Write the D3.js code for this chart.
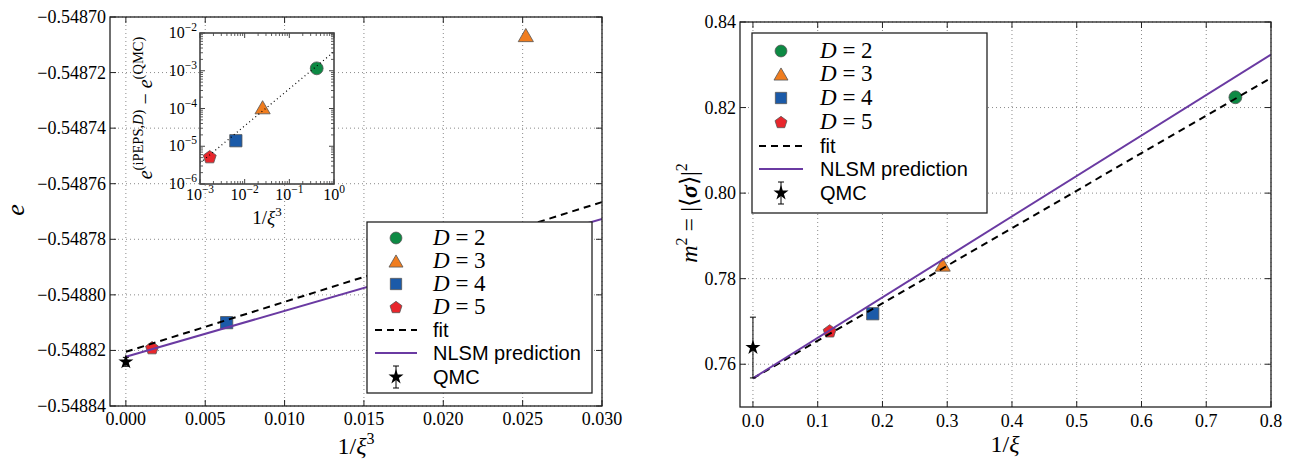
<!DOCTYPE html>
<html><head><meta charset="utf-8">
<script src="https://cdn.jsdelivr.net/npm/d3@7"></script>
<style>
body{margin:0;background:#fff;}
svg{display:block;}
.serif{font-family:"Liberation Serif";}
.sans{font-family:"Liberation Sans";}
</style></head>
<body>
<svg id="c" width="1291" height="462"></svg>
<script>
// ---------------- data ----------------
const seriesNames = ["D = 2","D = 3","D = 4","D = 5"];
const seriesDigits = ["2","3","4","5"];
const seriesColors = ["#0d8a44","#f07d1f","#1b5aa8","#e8262c"];
const seriesShapes = ["circle","triangle","square","pentagon"];
const invXi3 = [0.41, 0.0252, 0.00635, 0.00165];   // 1/xi^3
const invXi = [0.745, 0.293, 0.185, 0.1185];         // 1/xi
const energy = [-0.547664, -0.5487065, -0.548810, -0.548819];
const magnet2 = [0.8224, 0.7833, 0.7718, 0.7678];
const energyDiff = [1.16e-3, 1.08e-4, 1.4e-5, 5.3e-6];
const qmcE = -0.5488241, qmcEErr = 1.6e-6;
const qmcM = 0.7639, qmcMErr = 0.0071;
const fitEX = [0, 0.030], fitEY = [-0.5488205, -0.5487666];
const nlsmEX = [0, 0.030], nlsmEY = [-0.5488223, -0.5487727];
const fitMX = [0, 0.8], fitMY = [0.7567, 0.8269];
const nlsmMX = [0, 0.8], nlsmMY = [0.7567, 0.8324];
const insetFitX = [1e-3, 1], insetFitY = [3.6e-6, 3.2e-3];
const leftXTicks = [0, 0.005, 0.010, 0.015, 0.020, 0.025, 0.030];
const leftYTicks = [-0.54884, -0.54882, -0.54880, -0.54878, -0.54876, -0.54874, -0.54872, -0.54870];
const rightXTicks = [0, 0.1, 0.2, 0.3, 0.4, 0.5, 0.6, 0.7, 0.8];
const rightYTicks = [0.76, 0.78, 0.80, 0.82, 0.84];
const insetXTicks = [1e-3, 1e-2, 1e-1, 1];
const insetXExp = ["−3","−2","−1","0"];
const insetYTicks = [1e-6, 1e-5, 1e-4, 1e-3, 1e-2];
const insetYExp = ["−6","−5","−4","−3","−2"];

// ---------------- helpers ----------------
const svg = d3.select("#c");
const purple = "#6a3aa2";

const pentagon = {draw(ctx, size){
  const r = Math.sqrt(size/2.378);
  for(let i=0;i<5;i++){
    const a = -Math.PI/2 + i*2*Math.PI/5;
    const x = r*Math.cos(a), y = r*Math.sin(a)+r*0.1;
    if(i===0) ctx.moveTo(x,y); else ctx.lineTo(x,y);
  }
  ctx.closePath();
}};
const triangleUp = {draw(ctx, size){
  const s = Math.sqrt(size*4/Math.sqrt(3));
  const h = s*Math.sqrt(3)/2;
  ctx.moveTo(0,-h/2); ctx.lineTo(s/2,h/2); ctx.lineTo(-s/2,h/2); ctx.closePath();
}};
const shapeMap = {circle:[d3.symbolCircle,130], triangle:[triangleUp,100], square:[d3.symbolSquare,150], pentagon:[pentagon,110]};
function markerPath(shape, scale=1){
  const [t,s] = shapeMap[shape];
  return d3.symbol().type(t).size(s*scale)();
}

function grid(g, x, y, xt, yt){
  const [x0,x1] = x.range(), [y0,y1] = y.range();
  g.append("g").selectAll("line").data(xt).join("line")
    .attr("x1",d=>x(d)).attr("x2",d=>x(d)).attr("y1",y0).attr("y2",y1)
    .attr("stroke","#8a8a8a").attr("stroke-width",1).attr("stroke-dasharray","1,3");
  g.append("g").selectAll("line").data(yt).join("line")
    .attr("y1",d=>y(d)).attr("y2",d=>y(d)).attr("x1",x0).attr("x2",x1)
    .attr("stroke","#8a8a8a").attr("stroke-width",1).attr("stroke-dasharray","1,3");
}
function ticksAndBox(g, x, y, xt, yt, len, color, sw){
  const [x0,x1] = x.range(), [y0,y1] = y.range();
  const tk = g.append("g").attr("stroke",color).attr("stroke-width",1);
  xt.forEach(d=>{
    tk.append("line").attr("x1",x(d)).attr("x2",x(d)).attr("y1",y0).attr("y2",y0-len);
    tk.append("line").attr("x1",x(d)).attr("x2",x(d)).attr("y1",y1).attr("y2",y1+len);
  });
  yt.forEach(d=>{
    tk.append("line").attr("y1",y(d)).attr("y2",y(d)).attr("x1",x0).attr("x2",x0+len);
    tk.append("line").attr("y1",y(d)).attr("y2",y(d)).attr("x1",x1).attr("x2",x1-len);
  });
  g.append("rect").attr("x",x0).attr("y",y1).attr("width",x1-x0).attr("height",y0-y1)
    .attr("fill","none").attr("stroke",color).attr("stroke-width",sw);
}
function serifText(g){ return g.append("text").attr("class","serif"); }

// ================= LEFT PANEL =================
const xL = d3.scaleLinear([-0.001, 0.030],[110, 602]);
const yL = d3.scaleLinear([-0.54884, -0.54870],[406, 17]);
const gL = svg.append("g");
grid(gL, xL, yL, leftXTicks, leftYTicks);
gL.append("defs").append("clipPath").attr("id","clipL").append("rect")
  .attr("x",110).attr("y",17).attr("width",492).attr("height",389);
const plotL = gL.append("g").attr("clip-path","url(#clipL)");
energy.forEach((e,i)=>{
  plotL.append("path").attr("d",markerPath(seriesShapes[i]))
    .attr("transform",`translate(${xL(invXi3[i])},${yL(e)})`)
    .attr("fill",seriesColors[i]).attr("stroke","#555").attr("stroke-width",0.8);
});
const lineL = d3.line().x(d=>xL(d[0])).y(d=>yL(d[1]));
plotL.append("path").attr("d",lineL(d3.zip(fitEX,fitEY)))
  .attr("fill","none").attr("stroke","#000").attr("stroke-width",2).attr("stroke-dasharray","7,5");
plotL.append("path").attr("d",lineL(d3.zip(nlsmEX,nlsmEY)))
  .attr("fill","none").attr("stroke",purple).attr("stroke-width",2);
{
  const cx = xL(0);
  const q = plotL.append("g").attr("stroke","#000").attr("stroke-width",1);
  q.append("line").attr("x1",cx).attr("x2",cx).attr("y1",yL(qmcE-qmcEErr)).attr("y2",yL(qmcE+qmcEErr));
  [qmcE-qmcEErr,qmcE+qmcEErr].forEach(v=>q.append("line").attr("x1",cx-3).attr("x2",cx+3).attr("y1",yL(v)).attr("y2",yL(v)));
  plotL.append("path").attr("d",d3.symbol().type(d3.symbolStar).size(70)())
    .attr("transform",`translate(${cx},${yL(qmcE)})`).attr("fill","#000");
}
ticksAndBox(gL, xL, yL, leftXTicks, leftYTicks, 6, "#222", 1.3);
gL.append("g").selectAll("text").data(leftXTicks).join("text").attr("class","serif")
  .attr("x",d=>xL(d)).attr("y",425).attr("text-anchor","middle")
  .attr("font-size",18).text(d=>d.toFixed(3));
gL.append("g").selectAll("text").data(leftYTicks).join("text").attr("class","serif")
  .attr("x",106).attr("y",d=>yL(d)+6).attr("text-anchor","end")
  .attr("font-size",18).text(d=>"−"+Math.abs(d).toFixed(5));
serifText(gL).attr("transform","translate(24,210) rotate(-90)").attr("text-anchor","middle")
  .attr("font-style","italic").attr("font-size",26).text("e");
{
  const t = serifText(gL).attr("x",356).attr("y",454).attr("text-anchor","middle").attr("font-size",24);
  t.append("tspan").text("1/");
  t.append("tspan").attr("font-style","italic").text("ξ");
  t.append("tspan").attr("font-size",16).attr("dy",-10).text("3");
}

// ----- inset -----
const xI = d3.scaleLog([1e-3,1],[200,334]);
const yI = d3.scaleLog([1e-6,1e-2],[184,33]);
const gI = svg.append("g");
gI.append("rect").attr("x",200).attr("y",33).attr("width",134).attr("height",151).attr("fill","#fff");
gI.append("defs").append("clipPath").attr("id","clipI").append("rect")
  .attr("x",200).attr("y",33).attr("width",134).attr("height",151);
const plotI = gI.append("g").attr("clip-path","url(#clipI)");
energyDiff.forEach((v,i)=>{
  plotI.append("path").attr("d",markerPath(seriesShapes[i]))
    .attr("transform",`translate(${xI(invXi3[i])},${yI(v)})`)
    .attr("fill",seriesColors[i]).attr("stroke","#555").attr("stroke-width",0.8);
});
plotI.append("path").attr("d",d3.line().x(d=>xI(d[0])).y(d=>yI(d[1]))(d3.zip(insetFitX,insetFitY)))
  .attr("fill","none").attr("stroke","#000").attr("stroke-width",1.2).attr("stroke-dasharray","1,3");
{
  const mt = gI.append("g").attr("stroke","#333").attr("stroke-width",0.8);
  const minorX = [], minorY = [];
  for(let e=-3;e<0;e++) for(let m=2;m<10;m++) minorX.push(m*Math.pow(10,e));
  for(let e=-6;e<-2;e++) for(let m=2;m<10;m++) minorY.push(m*Math.pow(10,e));
  minorX.forEach(d=>{
    mt.append("line").attr("x1",xI(d)).attr("x2",xI(d)).attr("y1",184).attr("y2",181);
    mt.append("line").attr("x1",xI(d)).attr("x2",xI(d)).attr("y1",33).attr("y2",36);
  });
  minorY.forEach(d=>{
    mt.append("line").attr("y1",yI(d)).attr("y2",yI(d)).attr("x1",200).attr("x2",203);
    mt.append("line").attr("y1",yI(d)).attr("y2",yI(d)).attr("x1",334).attr("x2",331);
  });
}
ticksAndBox(gI, xI, yI, insetXTicks, insetYTicks, 5, "#444", 1.6);
insetXTicks.forEach((d,i)=>{
  const t = serifText(gI).attr("x",xI(d)).attr("y",200).attr("text-anchor","middle").attr("font-size",16);
  t.append("tspan").text("10");
  t.append("tspan").attr("font-size",11.5).attr("dy",-7).text(insetXExp[i]);
});
insetYTicks.forEach((d,i)=>{
  const t = serifText(gI).attr("x",197).attr("y",yI(d)+5).attr("text-anchor","end").attr("font-size",16);
  t.append("tspan").text("10");
  t.append("tspan").attr("font-size",11.5).attr("dy",-7).text(insetYExp[i]);
});
{
  const t = serifText(gI).attr("x",267).attr("y",224).attr("text-anchor","middle").attr("font-size",19);
  t.append("tspan").text("1/");
  t.append("tspan").attr("font-style","italic").text("ξ");
  t.append("tspan").attr("font-size",13).attr("dy",-8).text("3");
}
{
  const t = serifText(gI).attr("transform","translate(152,108) rotate(-90)").attr("text-anchor","middle").attr("font-size",20);
  t.append("tspan").attr("font-style","italic").text("e");
  t.append("tspan").attr("font-size",14.5).attr("dy",-9).text("(iPEPS,");
  t.append("tspan").attr("font-size",14.5).attr("font-style","italic").text("D");
  t.append("tspan").attr("font-size",14.5).text(")");
  t.append("tspan").attr("dy",9).text(" − ");
  t.append("tspan").attr("font-style","italic").text("e");
  t.append("tspan").attr("font-size",14.5).attr("dy",-9).text("(QMC)");
}

// ----- legends -----
function legend(g, box, mx, lx0, lx1, tx, rows){
  g.append("rect").attr("x",box[0]).attr("y",box[1]).attr("width",box[2]).attr("height",box[3])
    .attr("fill","#fff").attr("stroke","#222").attr("stroke-width",1.3);
  seriesNames.forEach((nm,i)=>{
    g.append("path").attr("d",markerPath(seriesShapes[i],0.85))
      .attr("transform",`translate(${mx},${rows[i]})`)
      .attr("fill",seriesColors[i]).attr("stroke","#555").attr("stroke-width",0.8);
    const t = serifText(g).attr("x",tx).attr("y",rows[i]+7).attr("font-size",23);
    t.append("tspan").attr("font-style","italic").text("D");
    t.append("tspan").text(" = "+seriesDigits[i]);
  });
  g.append("line").attr("x1",lx0).attr("x2",lx1).attr("y1",rows[4]).attr("y2",rows[4])
    .attr("stroke","#000").attr("stroke-width",2).attr("stroke-dasharray","7,5");
  g.append("text").attr("class","sans").attr("x",tx).attr("y",rows[4]+7).attr("font-size",20).text("fit");
  g.append("line").attr("x1",lx0).attr("x2",lx1).attr("y1",rows[5]).attr("y2",rows[5])
    .attr("stroke",purple).attr("stroke-width",2);
  g.append("text").attr("class","sans").attr("x",tx).attr("y",rows[5]+7).attr("font-size",20).text("NLSM prediction");
  const q = g.append("g").attr("stroke","#000").attr("stroke-width",1);
  q.append("line").attr("x1",mx).attr("x2",mx).attr("y1",rows[6]-11).attr("y2",rows[6]+11);
  q.append("line").attr("x1",mx-3).attr("x2",mx+3).attr("y1",rows[6]-11).attr("y2",rows[6]-11);
  q.append("line").attr("x1",mx-3).attr("x2",mx+3).attr("y1",rows[6]+11).attr("y2",rows[6]+11);
  g.append("path").attr("d",d3.symbol().type(d3.symbolStar).size(70)()).attr("transform",`translate(${mx},${rows[6]})`).attr("fill","#000");
  g.append("text").attr("class","sans").attr("x",tx).attr("y",rows[6]+7).attr("font-size",20).text("QMC");
}
legend(gL.append("g"), [367,222,225,171], 396, 375, 417, 433, [238,261,284,307,330,353,377]);

// ================= RIGHT PANEL =================
const xR = d3.scaleLinear([-0.02, 0.8],[740, 1271]);
const yR = d3.scaleLinear([0.75, 0.84],[407, 22]);
const gR = svg.append("g");
grid(gR, xR, yR, rightXTicks, rightYTicks);
gR.append("defs").append("clipPath").attr("id","clipR").append("rect")
  .attr("x",740).attr("y",22).attr("width",531).attr("height",385);
const plotR = gR.append("g").attr("clip-path","url(#clipR)");
magnet2.forEach((m,i)=>{
  plotR.append("path").attr("d",markerPath(seriesShapes[i]))
    .attr("transform",`translate(${xR(invXi[i])},${yR(m)})`)
    .attr("fill",seriesColors[i]).attr("stroke","#555").attr("stroke-width",0.8);
});
const lineR = d3.line().x(d=>xR(d[0])).y(d=>yR(d[1]));
plotR.append("path").attr("d",lineR(d3.zip(fitMX,fitMY)))
  .attr("fill","none").attr("stroke","#000").attr("stroke-width",2).attr("stroke-dasharray","7,5");
plotR.append("path").attr("d",lineR(d3.zip(nlsmMX,nlsmMY)))
  .attr("fill","none").attr("stroke",purple).attr("stroke-width",2);
{
  const cx = xR(0);
  const q = plotR.append("g").attr("stroke","#000").attr("stroke-width",1);
  q.append("line").attr("x1",cx).attr("x2",cx).attr("y1",yR(qmcM-qmcMErr)).attr("y2",yR(qmcM+qmcMErr));
  [qmcM-qmcMErr,qmcM+qmcMErr].forEach(v=>q.append("line").attr("x1",cx-3).attr("x2",cx+3).attr("y1",yR(v)).attr("y2",yR(v)));
  plotR.append("path").attr("d",d3.symbol().type(d3.symbolStar).size(70)())
    .attr("transform",`translate(${cx},${yR(qmcM)})`).attr("fill","#000");
}
ticksAndBox(gR, xR, yR, rightXTicks, rightYTicks, 6, "#222", 1.3);
gR.append("g").selectAll("text").data(rightXTicks).join("text").attr("class","serif")
  .attr("x",d=>xR(d)).attr("y",427).attr("text-anchor","middle")
  .attr("font-size",18).text(d=>d.toFixed(1));
gR.append("g").selectAll("text").data(rightYTicks).join("text").attr("class","serif")
  .attr("x",736).attr("y",d=>yR(d)+6).attr("text-anchor","end")
  .attr("font-size",18).text(d=>d.toFixed(2));
{
  const t = serifText(gR).attr("x",1005).attr("y",452).attr("text-anchor","middle").attr("font-size",24);
  t.append("tspan").text("1/");
  t.append("tspan").attr("font-style","italic").text("ξ");
}
{
  const t = serifText(gR).attr("transform","translate(697,213) rotate(-90)").attr("text-anchor","middle").attr("font-size",24);
  t.append("tspan").attr("font-style","italic").text("m");
  t.append("tspan").attr("font-size",16).attr("dy",-10).text("2");
  t.append("tspan").attr("dy",10).text(" = |⟨");
  t.append("tspan").attr("font-style","italic").attr("font-weight","bold").text("σ");
  t.append("tspan").text("⟩|");
  t.append("tspan").attr("font-size",16).attr("dy",-10).text("2");
}
legend(gR.append("g"), [752,33,235,180], 781, 759, 803, 820, [51,74,98,122,146,169,193]);
</script>
</body></html>
